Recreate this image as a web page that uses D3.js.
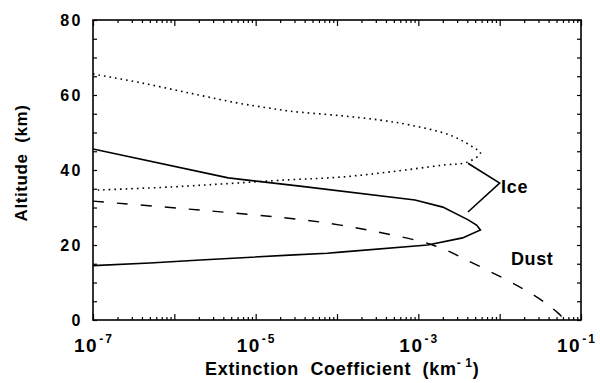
<!DOCTYPE html>
<html><head><meta charset="utf-8">
<script src="https://cdn.jsdelivr.net/npm/d3@7"></script>
<style>
body{margin:0;background:#fff;}
text{font-family:"Liberation Sans",Arial,Helvetica,sans-serif;font-weight:bold;fill:#000;}
</style></head>
<body><svg id="c" width="600" height="383"></svg>
<script>
// Data (extinction coefficient km^-1, altitude km)
const iceSolidExt = [1e-7, 4.6e-6, 3.5e-5, 9.1e-4, 2.0e-3, 4.1e-3, 5.2e-3, 5.8e-3, 3.5e-3, 1.3e-3, 1.1e-4, 7.6e-5, 2.6e-5, 2.1e-6, 5e-7, 1e-7];
const iceSolidAlt = [45.6, 37.9, 35.7, 32.0, 30.1, 26.7, 25.3, 24.0, 21.9, 20.0, 18.1, 17.8, 17.3, 16.0, 15.2, 14.5];
const iceDotExt = [1e-7, 3.8e-7, 1.55e-6, 5.9e-6, 1.38e-5, 2.6e-5, 1.1e-4, 3.4e-4, 7.9e-4, 2.45e-3, 4.7e-3, 5.8e-3, 4.0e-3, 2.0e-3, 4.5e-4, 1.1e-4, 2.6e-5, 4.0e-6, 9.5e-7, 1e-7];
const iceDotAlt = [65.6, 63.3, 60.5, 57.9, 56.6, 55.7, 54.5, 53.3, 52.0, 49.3, 46.1, 44.5, 42.1, 41.3, 39.5, 38.1, 37.4, 36.3, 35.5, 34.6];
const dustExt = [1e-7, 2.1e-6, 3.5e-5, 1.1e-4, 3.1e-4, 1.5e-3, 5.2e-3, 2.6e-2, 5.2e-2, 6.3e-2];
const dustAlt = [31.7, 29.3, 26.8, 25.3, 23.5, 20.0, 14.7, 6.7, 1.9, 0];
const xLabelExps = [-7, -5, -3, -1];
const yLabels = [0, 20, 40, 60, 80];

const svg = d3.select("#c");
const L = 93, R = 581, T = 20, B = 320;
const x = d3.scaleLog().domain([1e-7, 1e-1]).range([L, R]);
const y = d3.scaleLinear().domain([0, 80]).range([B, T]);

svg.append("clipPath").attr("id","pc").append("rect")
  .attr("x",L).attr("y",T).attr("width",R-L).attr("height",B-T);

const zip = (a,b)=>a.map((v,i)=>[v,b[i]]);
const g = svg.append("g").attr("clip-path","url(#pc)");
g.append("path").datum(zip(iceSolidExt, iceSolidAlt))
  .attr("d", d3.line().x(d=>x(d[0])).y(d=>y(d[1])))
  .attr("fill","none").attr("stroke","#000").attr("stroke-width",1.6);
g.append("path").datum(zip(iceDotExt, iceDotAlt))
  .attr("d", d3.line().x(d=>x(d[0])).y(d=>y(d[1])).curve(d3.curveCatmullRom))
  .attr("fill","none").attr("stroke","#000").attr("stroke-width",1.6).attr("stroke-dasharray","1.6,4");
g.append("path").datum(zip(dustExt, dustAlt))
  .attr("d", d3.line().x(d=>x(d[0])).y(d=>y(d[1])).curve(d3.curveCatmullRom))
  .attr("fill","none").attr("stroke","#000").attr("stroke-width",1.4).attr("stroke-dasharray","11,13");

// Axes (ticks inward)
const xMajor = d3.range(-7, 0).map(e=>Math.pow(10,e));
const xMinor = [];
for (let e=-7; e<-1; e++) for (let k=2; k<10; k++) xMinor.push(k*Math.pow(10,e));
svg.append("g").attr("transform",`translate(0,${B})`).call(d3.axisTop(x).tickValues(xMajor).tickSize(6).tickFormat(""));
svg.append("g").attr("transform",`translate(0,${B})`).call(d3.axisTop(x).tickValues(xMinor).tickSize(3).tickFormat(""));
svg.append("g").attr("transform",`translate(0,${T})`).call(d3.axisBottom(x).tickValues(xMajor).tickSize(6).tickFormat(""));
svg.append("g").attr("transform",`translate(0,${T})`).call(d3.axisBottom(x).tickValues(xMinor).tickSize(3).tickFormat(""));
const yTicks = d3.range(0, 81, 5);
svg.append("g").attr("transform",`translate(${L},0)`).call(d3.axisRight(y).tickValues(yTicks).tickSize(4).tickFormat(""));
svg.append("g").attr("transform",`translate(${R},0)`).call(d3.axisLeft(y).tickValues(yTicks).tickSize(4).tickFormat(""));
svg.selectAll(".domain").remove();
svg.selectAll(".tick line").attr("stroke","#000").attr("stroke-width",1.2);
svg.append("rect").attr("x",L).attr("y",T).attr("width",R-L).attr("height",B-T)
  .attr("fill","none").attr("stroke","#000").attr("stroke-width",1.6);

// Y tick labels
svg.selectAll(".ylab").data(yLabels).enter().append("text")
  .attr("x", 83).attr("y", d=>y(d)+6).attr("text-anchor","end")
  .style("font-size","16px").style("letter-spacing","2.5px").text(d=>d);

// X tick labels
xLabelExps.forEach(e=>{
  const cx = Math.min(x(Math.pow(10,e)) - 19, 557);
  const t = svg.append("text").attr("x", cx).attr("y", 352)
    .style("font-size","19px").style("letter-spacing","1.5px");
  t.append("tspan").text("10");
  t.append("tspan").attr("dx",1).attr("dy",-9).style("font-size","12px").style("letter-spacing","2px").text("-" + (-e));
});

// Axis titles
svg.append("text").attr("transform","translate(27,163) rotate(-90)").attr("text-anchor","middle")
  .style("font-size","17px").style("letter-spacing","0.6px").attr("xml:space","preserve").text("Altitude  (km)");
const xt = svg.append("text").attr("x",205).attr("y",375).style("font-size","18px")
  .style("letter-spacing","0.7px").attr("xml:space","preserve");
xt.append("tspan").text("Extinction  Coefficient  (km");
xt.append("tspan").attr("dy",-8).style("font-size","12px").text("- 1");
xt.append("tspan").attr("dy",8).text(")");

// Annotations
svg.append("path").attr("d", `M${x(Math.pow(10,-2.39))},${y(41.8)} L${x(Math.pow(10,-2.0))},${y(36.5)} L${x(Math.pow(10,-2.39))},${y(28.8)}`)
  .attr("fill","none").attr("stroke","#000").attr("stroke-width",1.6);
svg.append("text").attr("x",501).attr("y",193).style("font-size","18px").style("letter-spacing","0.8px").text("Ice");
svg.append("text").attr("x",511).attr("y",265).style("font-size","18px").style("letter-spacing","0.6px").text("Dust");
</script></body></html>
